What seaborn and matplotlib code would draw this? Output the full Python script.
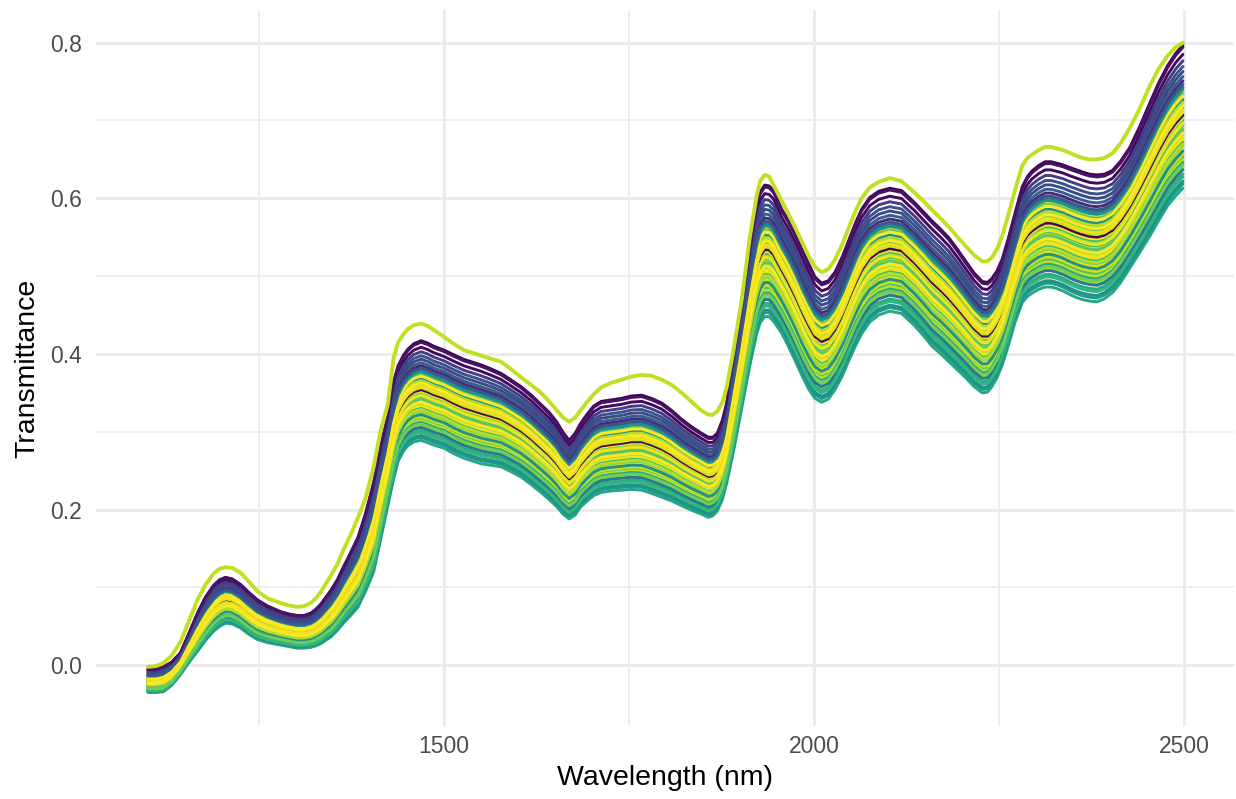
import numpy as np
import pandas as pd
import matplotlib
matplotlib.use("Agg")
import matplotlib.pyplot as plt
import seaborn as sns
from matplotlib.ticker import MultipleLocator


wavelength = [1100, 1111, 1121, 1132, 1144, 1155, 1167, 1178, 1189, 1197,
              1205, 1214, 1225, 1236, 1248, 1262, 1279, 1290, 1302, 1311,
              1320, 1327, 1334, 1340, 1347, 1356, 1365, 1374, 1384, 1394,
              1405, 1414, 1424, 1432, 1438, 1445, 1451, 1459, 1469, 1478,
              1486, 1500, 1513, 1527, 1550, 1563, 1577, 1590, 1604, 1618,
              1631, 1642, 1652, 1661, 1669, 1677, 1684, 1692, 1702, 1712,
              1726, 1740, 1753, 1767, 1780, 1794, 1808, 1821, 1835, 1848,
              1857, 1863, 1869, 1876, 1882, 1891, 1902, 1913, 1922, 1927,
              1933, 1939, 1945, 1956, 1965, 1974, 1984, 1993, 2001, 2010,
              2019, 2028, 2038, 2047, 2056, 2064, 2075, 2087, 2102, 2118,
              2136, 2148, 2159, 2171, 2182, 2193, 2204, 2216, 2227, 2234,
              2240, 2247, 2254, 2262, 2271, 2281, 2288, 2294, 2303, 2312,
              2320, 2328, 2336, 2344, 2353, 2362, 2372, 2382, 2392, 2403,
              2414, 2426, 2440, 2453, 2465, 2477, 2488, 2498]

# the single yellow-green sample that sits above everything else
outlier_curve = [-.002, -.001, .003, .012, .030, .056, .084, .104, .118, .124,
                 .126, .125, .119, .108, .095, .086, .080, .077, .075, .076,
                 .080, .086, .095, .104, .115, .130, .150, .168, .190, .215,
                 .255, .300, .335, .395, .415, .425, .432, .437, .439, .436,
                 .431, .422, .413, .405, .398, .394, .390, .381, .370, .360,
                 .350, .339, .328, .318, .313, .318, .327, .337, .348, .357,
                 .363, .367, .371, .373, .372, .367, .360, .350, .338, .327,
                 .322, .322, .326, .338, .358, .405, .469, .550, .602, .622,
                 .630, .628, .617, .597, .580, .563, .543, .525, .512, .505,
                 .509, .521, .541, .563, .584, .600, .614, .621, .626, .622,
                 .607, .596, .585, .574, .563, .551, .539, .527, .519, .519,
                 .524, .535, .552, .578, .610, .642, .652, .656, .662, .666,
                 .666, .664, .662, .659, .655, .652, .650, .650, .652, .658,
                 .671, .690, .716, .744, .766, .783, .794, .800]
outlier_value = 0.91

# highest regular spectrum (dark purple group)
top_curve = [-.005, -.005, -.002, .004, .016, .040, .067, .088, .103, .110,
             .113, .111, .104, .094, .084, .076, .069, .066, .064, .064,
             .067, .072, .079, .087, .096, .110, .128, .145, .165, .195,
             .235, .280, .320, .365, .385, .398, .406, .413, .417, .414,
             .410, .405, .399, .393, .386, .381, .375, .367, .358, .347,
             .335, .325, .313, .299, .289, .298, .310, .321, .333, .339,
             .341, .343, .346, .347, .343, .337, .327, .316, .306, .298,
             .293, .293, .298, .315, .338, .395, .460, .535, .590, .608,
             .617, .616, .610, .586, .572, .555, .533, .515, .499, .491,
             .494, .505, .525, .547, .569, .586, .601, .609, .613, .610,
             .594, .582, .571, .560, .549, .535, .520, .504, .493, .492,
             .497, .507, .522, .548, .580, .615, .628, .635, .642, .647,
             .647, .645, .643, .640, .637, .634, .631, .630, .631, .636,
             .648, .665, .693, .722, .748, .770, .786, .797]

# lowest spectrum (teal)
bottom_curve = [-.035, -.035, -.034, -.026, -.012, .003, .018, .032, .044, .050,
                .054, .053, .048, .040, .033, .029, .026, .024, .022, .022,
                .023, .025, .028, .032, .036, .045, .055, .064, .075, .095,
                .120, .160, .205, .240, .262, .275, .282, .287, .289, .286,
                .283, .279, .272, .266, .259, .257, .255, .249, .242, .232,
                .222, .213, .204, .194, .188, .193, .203, .210, .218, .222,
                .224, .225, .226, .225, .221, .216, .211, .205, .199, .194,
                .190, .192, .198, .213, .235, .275, .330, .385, .425, .440,
                .448, .448, .442, .427, .410, .392, .371, .354, .343, .338,
                .342, .354, .372, .392, .411, .426, .441, .450, .455, .452,
                .436, .423, .410, .400, .390, .380, .370, .358, .350, .351,
                .358, .370, .386, .410, .440, .466, .474, .478, .483, .486,
                .486, .484, .481, .477, .473, .470, .468, .467, .471, .479,
                .492, .510, .531, .551, .571, .590, .603, .613]

# other samples, in drawing order: position between bottom (0) and top (1)
# and the value that sets their colour
sample_level = [1.00, 0.62, 0.00, 0.68, 0.85, 0.10, 0.48, 0.935, 0.425, 0.15,
                0.78, 0.565, 0.03, 0.495, 0.89, 0.28, 0.66, 0.39, 0.585, 0.22,
                0.75, 0.46, 0.05, 0.34, 0.705, 0.51, 0.20, 0.60, 0.985, 0.32,
                0.645, 0.13, 0.53, 0.36, 0.815, 0.24, 0.69, 0.08, 0.41, 0.725,
                0.30, 0.545, 0.18, 0.375, 0.44, 0.26, 0.575, 0.45, 0.31, 0.385,
                0.165]
sample_value = [0.00, 0.50, 0.60, 0.97, 0.25, 0.62, 0.68, 0.02, 0.95, 0.85,
                0.30, 0.72, 0.55, 0.99, 0.18, 0.95, 0.75, 0.78, 0.98, 0.72,
                0.12, 0.85, 0.50, 0.97, 0.40, 0.02, 0.90, 0.88, 0.05, 0.65,
                1.00, 0.40, 0.93, 0.98, 0.22, 0.92, 0.50, 0.66, 0.74, 0.27,
                0.80, 0.96, 0.60, 0.88, 0.70, 0.50, 1.00, 0.97, 0.88, 1.00,
                0.78]


wl = np.array(wavelength)
top = np.array(top_curve)
bottom = np.array(bottom_curve)

frames = []
for i, lev in enumerate(sample_level):
    frames.append(pd.DataFrame({"wavelength": wl,
                                "transmittance": bottom + lev * (top - bottom),
                                "sample": i}))
df = pd.concat(frames, ignore_index=True)
df_out = pd.DataFrame({"wavelength": wl, "transmittance": outlier_curve, "sample": 0})

cmap = sns.color_palette("viridis", as_cmap=True)
pal = {i: cmap(v) for i, v in enumerate(sample_value)}


sns.set_theme(style="whitegrid")
plt.rcParams["font.family"] = ["Liberation Sans", "DejaVu Sans"]

fig = plt.figure(figsize=(12.36, 7.99), dpi=100)
ax = fig.add_axes([0.0777, 0.0914, 0.9207, 0.8961])

sns.lineplot(data=df, x="wavelength", y="transmittance", hue="sample",
             hue_order=list(range(len(sample_level))), palette=pal,
             units="sample", estimator=None, legend=False, linewidth=2.1,
             ax=ax, zorder=3)
sns.lineplot(data=df_out, x="wavelength", y="transmittance",
             color=cmap(outlier_value), estimator=None, linewidth=2.8,
             ax=ax, zorder=4)

ax.set_xlim(1030, 2567)
ax.set_ylim(-0.078, 0.842)
ax.set_xticks([1500, 2000, 2500])
ax.set_yticks([0.0, 0.2, 0.4, 0.6, 0.8])
ax.set_yticklabels(["0.0", "0.2", "0.4", "0.6", "0.8"])
ax.xaxis.set_minor_locator(MultipleLocator(250))
ax.yaxis.set_minor_locator(MultipleLocator(0.1))

ax.set_facecolor("white")
for s in ax.spines.values():
    s.set_visible(False)
ax.grid(which="major", color="#EBEBEB", linewidth=2.0)
ax.grid(which="minor", color="#EBEBEB", linewidth=1.2)
ax.set_axisbelow(True)
ax.tick_params(which="both", length=0)
ax.tick_params(axis="x", labelsize=16.5, labelcolor="#4D4D4D", pad=6.5)
ax.tick_params(axis="y", labelsize=16.5, labelcolor="#4D4D4D", pad=10)

ax.set_xlabel("Wavelength (nm)", fontsize=20.5, color="black", labelpad=5)
ax.set_ylabel("Transmittance", fontsize=20.5, color="black", labelpad=7)

plt.savefig("out.png", dpi=100)
